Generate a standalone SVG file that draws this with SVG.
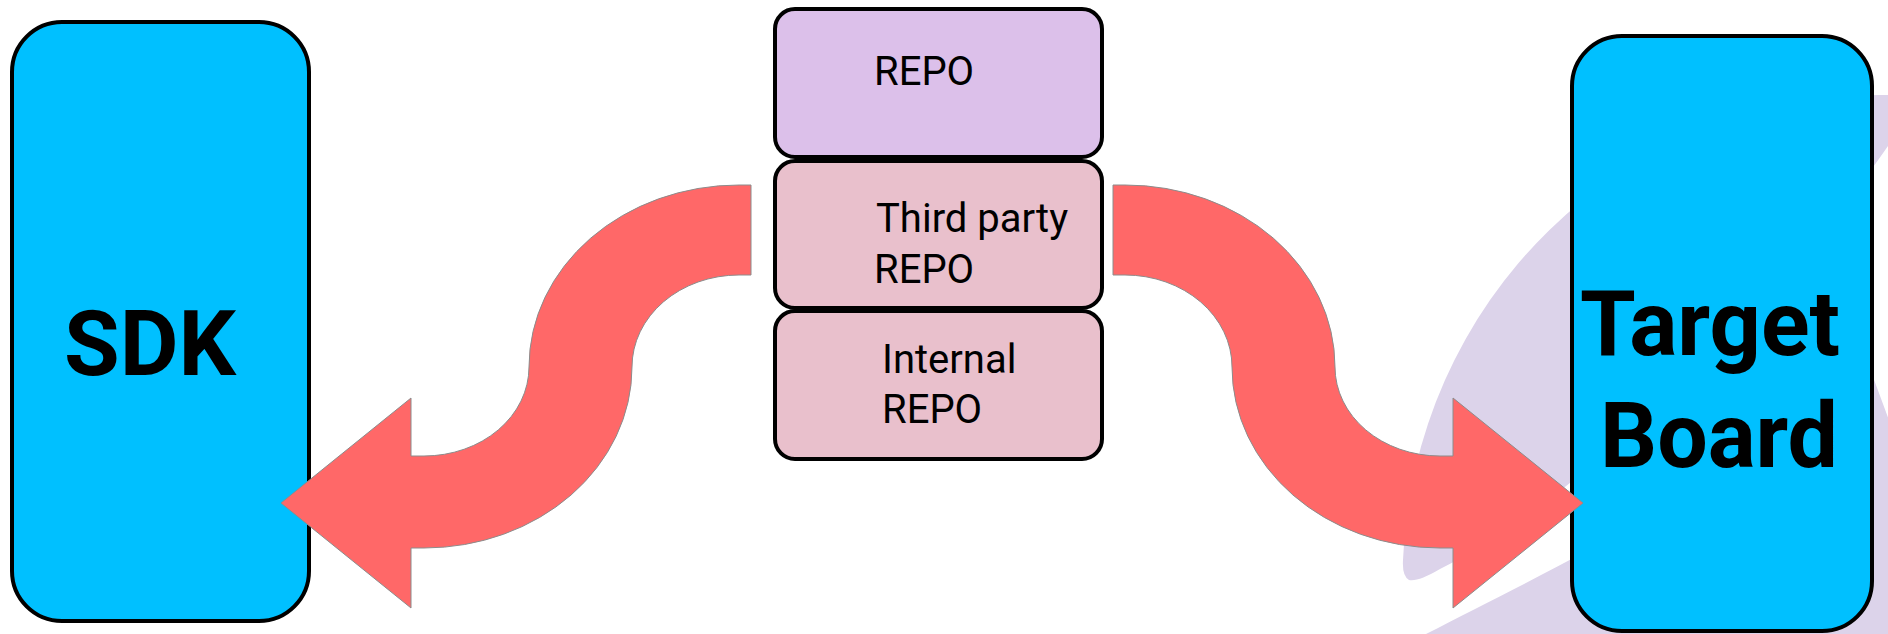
<svg xmlns="http://www.w3.org/2000/svg" width="1888" height="634" viewBox="0 0 1888 634">
  <style>
    .bg { fill: #DCD3EA; }
    .big { fill: #00C0FF; stroke: #000; stroke-width: 4; }
    .repo1 { fill: #DCC0EA; stroke: #000; stroke-width: 4; }
    .repo2 { fill: #E9C0CC; stroke: #000; stroke-width: 4; }
    .arrow { fill: #FF6868; stroke: #8c8c8c; stroke-width: 1; }
    .bigtxt { font-family: Roboto, "Liberation Sans", sans-serif; font-weight: bold; font-size: 91px; fill: #000; }
    .smtxt { font-family: Roboto, "Liberation Sans", sans-serif; font-size: 40px; fill: #000; }
  </style>
  <rect width="1888" height="634" fill="#ffffff"/>
  <g id="background">
    <path class="bg" d="M 1440 569 Q 1418 582 1409 580 Q 1402 576 1403 560 A 477 485 0 0 1 1880 95 L 1888 95 L 1888 146 C 1760 330 1560 510 1440 569 Z"/>
    <path class="bg" d="M 1426 634 C 1560 565 1760 470 1866 358 L 1900 450 L 1900 634 Z"/>
  </g>
  <g id="sdk">
    <rect class="big" x="12" y="22" width="297" height="599" rx="50" ry="50"/>
    <text class="bigtxt" x="64" y="375" textLength="172" lengthAdjust="spacingAndGlyphs">SDK</text>
  </g>
  <g id="target-board">
    <rect class="big" x="1572" y="36" width="300" height="595" rx="50" ry="50"/>
    <text class="bigtxt" x="1580" y="355" textLength="260" lengthAdjust="spacingAndGlyphs">Target</text>
    <text class="bigtxt" x="1600" y="467" textLength="238" lengthAdjust="spacingAndGlyphs">Board</text>
  </g>
  <g id="repo">
    <rect class="repo1" x="775" y="9" width="327" height="148" rx="20" ry="20"/>
    <text class="smtxt" x="874" y="85">REPO</text>
  </g>
  <g id="third-party-repo">
    <rect class="repo2" x="775" y="161" width="327" height="147" rx="20" ry="20"/>
    <text class="smtxt" x="876" y="232">Third party</text>
    <text class="smtxt" x="874" y="283">REPO</text>
  </g>
  <g id="internal-repo">
    <rect class="repo2" x="775" y="311" width="327" height="148" rx="20" ry="20"/>
    <text class="smtxt" x="882" y="373">Internal</text>
    <text class="smtxt" x="882" y="423">REPO</text>
  </g>
  <g id="connectors">
    <path class="arrow" d="M 751 185 L 739 185 A 210 182 0 0 0 529 367 A 105 89 0 0 1 424 456 L 411 456 L 411 398 L 281 503 L 411 608 L 411 548 L 424 548 A 208 181 0 0 0 632 367 A 107 92 0 0 1 739 275 L 751 275 Z"/>
    <path class="arrow" d="M 1113 185 L 1125 185 A 210 182 0 0 1 1335 367 A 105 89 0 0 0 1440 456 L 1453 456 L 1453 398 L 1583 503 L 1453 608 L 1453 548 L 1440 548 A 208 181 0 0 1 1232 367 A 107 92 0 0 0 1125 275 L 1113 275 Z"/>
  </g>
</svg>
